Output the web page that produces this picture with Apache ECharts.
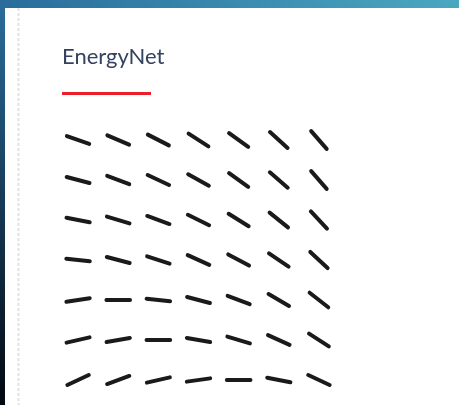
<!DOCTYPE html>
<html>
<head>
<meta charset="utf-8">
<script src="https://cdn.jsdelivr.net/npm/echarts@6/dist/echarts.min.js"></script>
<style>
  html, body { margin: 0; padding: 0; width: 459px; height: 405px; overflow: hidden; }
  body { background: linear-gradient(to top right, #02060f 0%, #2a6d9c 50%, #4aa8c0 100%); }
  #card { position: absolute; left: 5px; top: 8px; right: -20px; bottom: -20px; background: #ffffff; }
  #chart { position: absolute; left: 0; top: 0; width: 459px; height: 405px; }
</style>
</head>
<body>
<div id="card"></div>
<div id="chart"></div>
<script>
// grid columns / rows
const columns = [0, 1, 2, 3, 4, 5, 6];
const rows = [0, 1, 2, 3, 4, 5, 6];
// segment direction (degrees, positive = pointing down-right) for each row
const angleRow1 = [19, 23, 27, 33, 36, 42, 49];
const angleRow2 = [15, 21, 25, 29, 36, 41, 49];
const angleRow3 = [11, 17, 20, 26, 32, 39, 47];
const angleRow4 = [6, 15, 18, 24, 28, 34, 43];
const angleRow5 = [-9, 0, 6, 15, 21, 30, 38];
const angleRow6 = [-13, -10, 0, 10, 17, 24, 33];
const angleRow7 = [-25, -20, -13, -8, 0, 11, 25];
const angleRows = [angleRow1, angleRow2, angleRow3, angleRow4, angleRow5, angleRow6, angleRow7];

const data = [];
rows.forEach(function (r) {
  columns.forEach(function (c) {
    data.push([c, r, angleRows[r][c]]);
  });
});

const chart = echarts.init(document.getElementById('chart'), null, { renderer: 'canvas' });
chart.setOption({
  backgroundColor: 'transparent',
  animation: false,
  title: {
    text: 'EnergyNet',
    left: 62,
    top: 46,
    padding: 0,
    textStyle: { fontFamily: 'Lato', fontSize: 22, fontWeight: 'normal', color: '#34425f' }
  },
  graphic: [
    { type: 'rect', left: 62, top: 92, shape: { width: 89, height: 3 }, style: { fill: '#ea1f2a' } },
    { type: 'line', shape: { x1: 18.5, y1: 8, x2: 18.5, y2: 405 }, style: { stroke: '#e2e2e2', lineWidth: 2, lineDash: [3, 2] } }
  ],
  grid: { left: 58, right: 120, top: 120, bottom: 5 },
  xAxis: { type: 'value', min: -0.5, max: 6.5, show: false },
  yAxis: { type: 'value', min: -0.5, max: 6.5, inverse: true, show: false },
  series: [{
    type: 'custom',
    data: data,
    renderItem: function (params, api) {
      const p = api.coord([api.value(0), api.value(1)]);
      const a = api.value(2) * Math.PI / 180;
      const h = 11.8;
      const dx = Math.cos(a) * h, dy = Math.sin(a) * h;
      return {
        type: 'line',
        shape: { x1: p[0] - dx, y1: p[1] - dy, x2: p[0] + dx, y2: p[1] + dy },
        style: { stroke: '#1a1a1a', lineWidth: 4, lineCap: 'round' }
      };
    }
  }]
});
</script>
</body>
</html>
